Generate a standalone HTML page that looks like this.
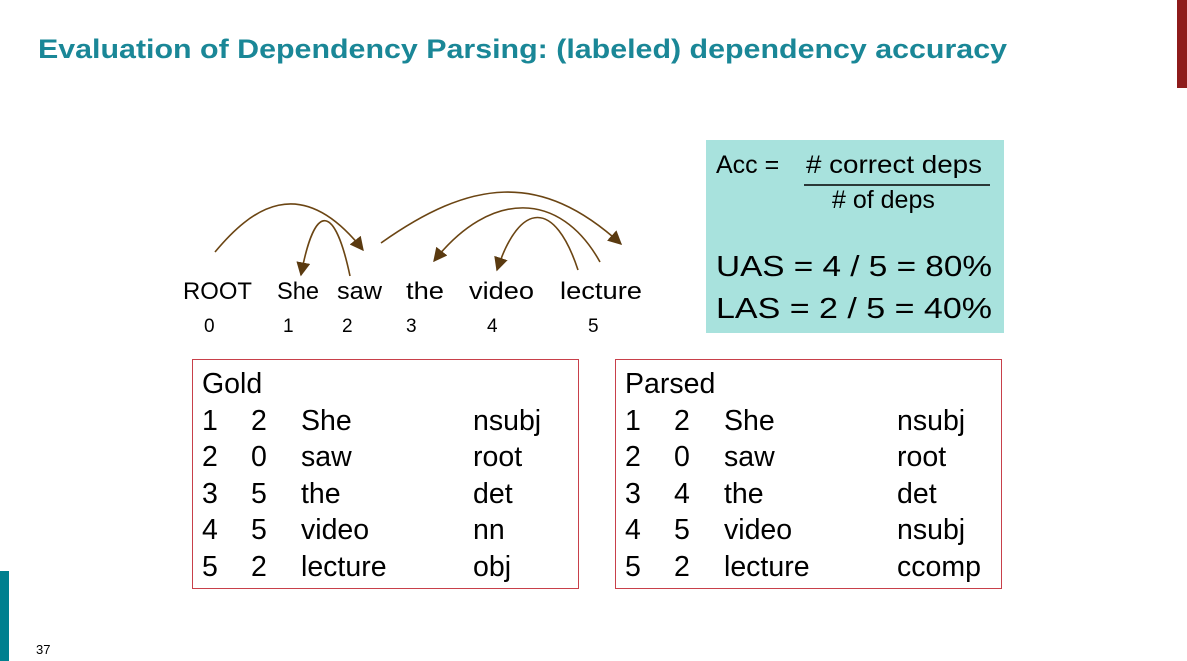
<!DOCTYPE html>
<html><head><meta charset="utf-8"><style>
html,body{margin:0;padding:0;background:#fff;}
svg{display:block}
text{font-family:"Liberation Sans",sans-serif;}
</style></head><body>
<svg width="1187" height="661" viewBox="0 0 1187 661" xmlns="http://www.w3.org/2000/svg">
<defs>
<marker id="ah" viewBox="0 0 10 10" refX="9" refY="5" markerWidth="14" markerHeight="14" markerUnits="userSpaceOnUse" orient="auto">
<path d="M0,0 L10,5 L0,10 z" fill="#5a3a10"/>
</marker>
</defs>
<rect x="1177" y="0" width="10" height="88" fill="#8e1b1b"/>
<rect x="0" y="571" width="9" height="90" fill="#00808f"/>
<text x="38" y="58" font-size="27" font-weight="bold" fill="#1a8797" textLength="969" lengthAdjust="spacingAndGlyphs">Evaluation of Dependency Parsing: (labeled) dependency accuracy</text>
<text x="36" y="654" font-size="13" fill="#000">37</text>

<g fill="none" stroke="#6b4513" stroke-width="1.6" marker-end="url(#ah)">
<path d="M215,252 C250,210 300,170 363,250"/>
<path d="M350,276 C335,205 315,200 301,275"/>
<path d="M381,243 C470,180 540,170 621,244"/>
<path d="M600,262 C560,190 490,190 434,261"/>
<path d="M578,270 C555,200 520,200 497,270"/>
</g>
<g font-size="24" fill="#000">
<text x="183" y="299" textLength="69" lengthAdjust="spacingAndGlyphs">ROOT</text>
<text x="277" y="299" textLength="42" lengthAdjust="spacingAndGlyphs">She</text>
<text x="337" y="299" textLength="45" lengthAdjust="spacingAndGlyphs">saw</text>
<text x="406" y="299" textLength="38" lengthAdjust="spacingAndGlyphs">the</text>
<text x="469" y="299" textLength="65" lengthAdjust="spacingAndGlyphs">video</text>
<text x="560" y="299" textLength="82" lengthAdjust="spacingAndGlyphs">lecture</text>
</g>
<g font-size="19" fill="#000">
<text x="204" y="332">0</text>
<text x="283" y="332">1</text>
<text x="342" y="332">2</text>
<text x="406" y="332">3</text>
<text x="487" y="332">4</text>
<text x="588" y="332">5</text>
</g>

<rect x="706" y="140" width="298" height="193" fill="#a8e2dd"/>
<g fill="#000" font-size="25">
<text x="716" y="173">Acc  =</text>
<text x="806" y="173" textLength="176" lengthAdjust="spacingAndGlyphs"># correct deps</text>
<text x="832" y="208"># of deps</text>
<text x="716" y="276" font-size="29" textLength="276" lengthAdjust="spacingAndGlyphs">UAS =  4 / 5  =  80%</text>
<text x="716" y="318" font-size="29" textLength="276" lengthAdjust="spacingAndGlyphs">LAS  =  2 / 5  =  40%</text>
</g>
<line x1="804" y1="185" x2="990" y2="185" stroke="#000" stroke-width="1.5"/>

<rect x="192.5" y="359.5" width="386" height="229" fill="none" stroke="#c8404a" stroke-width="1"/>
<rect x="615.5" y="359.5" width="386" height="229" fill="none" stroke="#c8404a" stroke-width="1"/>
<g font-size="28.5" fill="#000">
<text x="202" y="393">Gold</text>
<text x="202" y="430">1</text><text x="251" y="430">2</text><text x="301" y="430">She</text><text x="473" y="430">nsubj</text>
<text x="202" y="466">2</text><text x="251" y="466">0</text><text x="301" y="466">saw</text><text x="473" y="466">root</text>
<text x="202" y="503">3</text><text x="251" y="503">5</text><text x="301" y="503">the</text><text x="473" y="503">det</text>
<text x="202" y="539">4</text><text x="251" y="539">5</text><text x="301" y="539">video</text><text x="473" y="539">nn</text>
<text x="202" y="576">5</text><text x="251" y="576">2</text><text x="301" y="576">lecture</text><text x="473" y="576">obj</text>

<text x="625" y="393">Parsed</text>
<text x="625" y="430">1</text><text x="674" y="430">2</text><text x="724" y="430">She</text><text x="897" y="430">nsubj</text>
<text x="625" y="466">2</text><text x="674" y="466">0</text><text x="724" y="466">saw</text><text x="897" y="466">root</text>
<text x="625" y="503">3</text><text x="674" y="503">4</text><text x="724" y="503">the</text><text x="897" y="503">det</text>
<text x="625" y="539">4</text><text x="674" y="539">5</text><text x="724" y="539">video</text><text x="897" y="539">nsubj</text>
<text x="625" y="576">5</text><text x="674" y="576">2</text><text x="724" y="576">lecture</text><text x="897" y="576">ccomp</text>
</g>
</svg>
</body></html>
